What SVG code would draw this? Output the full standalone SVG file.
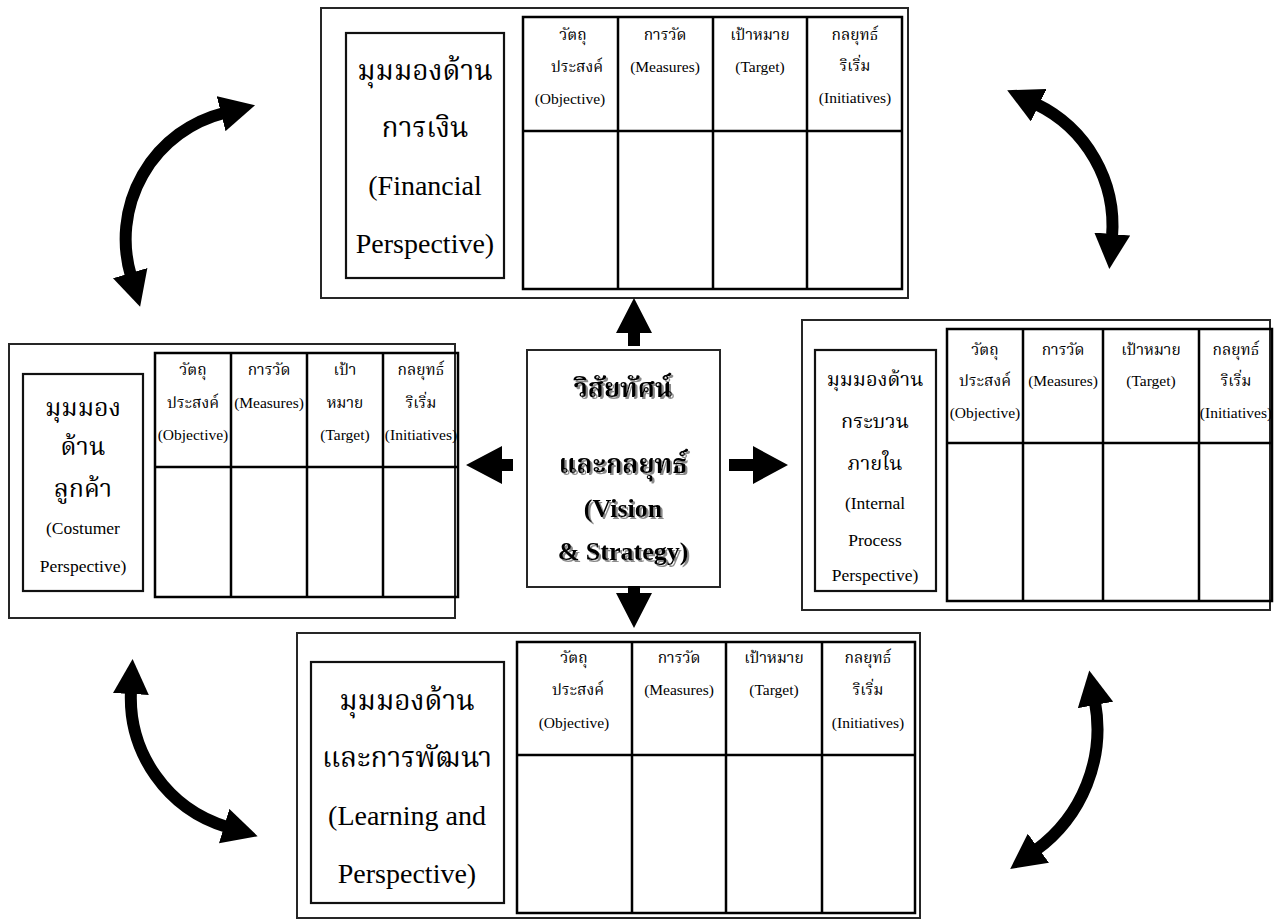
<svg xmlns="http://www.w3.org/2000/svg" width="1281" height="921" viewBox="0 0 1281 921">
  <style>
    .frame { fill: #ffffff; stroke: #262626; stroke-width: 2; }
    .title-box { fill: none; stroke: #111111; stroke-width: 2.2; }
    .grid { fill: none; stroke: #000000; stroke-width: 2.5; }
    .t { font-family: "Liberation Serif", "Noto Serif Thai", "Noto Sans Thai", "Garuda", "Loma", serif; fill: #000000; text-anchor: middle; }
    .cell { font-size: 15.5px; }
    .head28 { font-size: 28px; }
    .head25 { font-size: 25px; }
    .head20 { font-size: 20px; }
    .small175 { font-size: 17.5px; }
    .vision { font-size: 26px; font-weight: bold; }
    .block { fill: #000000; stroke: none; }
    .curve { fill: none; stroke: #000000; stroke-width: 12; marker-start: url(#head); marker-end: url(#head); }
  </style>
  <defs>
    <marker id="head" markerUnits="userSpaceOnUse" viewBox="0 0 35 36" markerWidth="35" markerHeight="36" refX="3" refY="18" orient="auto-start-reverse">
      <path d="M0,0 L35,18 L0,36 Z" fill="#000000"/>
    </marker>
    <filter id="shadow" x="-10%" y="-10%" width="130%" height="140%">
      <feDropShadow dx="2" dy="2" stdDeviation="0.6" flood-color="#8a8a8a" flood-opacity="1"/>
    </filter>
  </defs>
  <rect x="0" y="0" width="1281" height="921" fill="#ffffff"/>

  <!-- Financial perspective -->
  <g id="financial">
    <rect class="frame" x="321" y="8" width="587" height="290"/>
    <rect class="title-box" x="346" y="33" width="158" height="245"/>
    <text class="t head28" x="425" y="80">มุมมองด้าน</text>
    <text class="t head28" x="425" y="137">การเงิน</text>
    <text class="t head28" x="425" y="195">(Financial</text>
    <text class="t head28" x="425" y="253">Perspective)</text>
    <rect class="grid" x="523" y="17" width="379" height="272"/>
    <path class="grid" d="M523,131 H902 M618,17 V289 M713,17 V289 M807,17 V289"/>
    <text class="t cell" x="573" y="40">วัตถุ</text>
    <text class="t cell" x="577" y="72">ประสงค์</text>
    <text class="t cell" x="570" y="104">(Objective)</text>
    <text class="t cell" x="665" y="40">การวัด</text>
    <text class="t cell" x="665" y="72">(Measures)</text>
    <text class="t cell" x="760" y="40">เป้าหมาย</text>
    <text class="t cell" x="760" y="72">(Target)</text>
    <text class="t cell" x="855" y="40">กลยุทธ์</text>
    <text class="t cell" x="855" y="71">ริเริ่ม</text>
    <text class="t cell" x="855" y="103">(Initiatives)</text>
  </g>

  <!-- Customer perspective -->
  <g id="customer">
    <rect class="frame" x="9" y="344" width="446" height="274"/>
    <rect class="title-box" x="23" y="374" width="120" height="217"/>
    <text class="t head25" x="83" y="416">มุมมอง</text>
    <text class="t head25" x="83" y="455">ด้าน</text>
    <text class="t head25" x="83" y="497">ลูกค้า</text>
    <text class="t small175" x="83" y="534">(Costumer</text>
    <text class="t small175" x="83" y="572">Perspective)</text>
    <rect class="grid" x="155" y="353" width="303" height="244"/>
    <path class="grid" d="M155,467 H458 M231,353 V597 M307,353 V597 M383,353 V597"/>
    <text class="t cell" x="193" y="375">วัตถุ</text>
    <text class="t cell" x="193" y="408">ประสงค์</text>
    <text class="t cell" x="193" y="440">(Objective)</text>
    <text class="t cell" x="269" y="375">การวัด</text>
    <text class="t cell" x="269" y="408">(Measures)</text>
    <text class="t cell" x="345" y="375">เป้า</text>
    <text class="t cell" x="345" y="408">หมาย</text>
    <text class="t cell" x="345" y="440">(Target)</text>
    <text class="t cell" x="421" y="375">กลยุทธ์</text>
    <text class="t cell" x="421" y="408">ริเริ่ม</text>
    <text class="t cell" x="421" y="440">(Initiatives)</text>
  </g>

  <!-- Internal process perspective -->
  <g id="internal">
    <rect class="frame" x="802" y="320" width="468" height="290"/>
    <rect class="title-box" x="815" y="350" width="121" height="241"/>
    <text class="t head20" x="875" y="386">มุมมองด้าน</text>
    <text class="t head20" x="875" y="428">กระบวน</text>
    <text class="t head20" x="875" y="470">ภายใน</text>
    <text class="t small175" x="875" y="509">(Internal</text>
    <text class="t small175" x="875" y="546">Process</text>
    <text class="t small175" x="875" y="581">Perspective)</text>
    <rect class="grid" x="947" y="329" width="325" height="272"/>
    <path class="grid" d="M947,443 H1272 M1023,329 V601 M1103,329 V601 M1199,329 V601"/>
    <text class="t cell" x="985" y="355">วัตถุ</text>
    <text class="t cell" x="985" y="386">ประสงค์</text>
    <text class="t cell" x="985" y="418">(Objective)</text>
    <text class="t cell" x="1063" y="355">การวัด</text>
    <text class="t cell" x="1063" y="386">(Measures)</text>
    <text class="t cell" x="1151" y="355">เป้าหมาย</text>
    <text class="t cell" x="1151" y="386">(Target)</text>
    <text class="t cell" x="1236" y="355">กลยุทธ์</text>
    <text class="t cell" x="1236" y="386">ริเริ่ม</text>
    <text class="t cell" x="1236" y="418">(Initiatives)</text>
  </g>

  <!-- Learning and growth perspective -->
  <g id="learning">
    <rect class="frame" x="297" y="633" width="623" height="285"/>
    <rect class="title-box" x="311" y="662" width="193" height="241"/>
    <text class="t head28" x="407" y="710">มุมมองด้าน</text>
    <text class="t head28" x="407" y="767">และการพัฒนา</text>
    <text class="t head28" x="407" y="825">(Learning and</text>
    <text class="t head28" x="407" y="883">Perspective)</text>
    <rect class="grid" x="517" y="642" width="398" height="271"/>
    <path class="grid" d="M517,755 H915 M632,642 V913 M726,642 V913 M822,642 V913"/>
    <text class="t cell" x="574" y="663">วัตถุ</text>
    <text class="t cell" x="578" y="695">ประสงค์</text>
    <text class="t cell" x="574" y="728">(Objective)</text>
    <text class="t cell" x="679" y="663">การวัด</text>
    <text class="t cell" x="679" y="695">(Measures)</text>
    <text class="t cell" x="774" y="663">เป้าหมาย</text>
    <text class="t cell" x="774" y="695">(Target)</text>
    <text class="t cell" x="868" y="663">กลยุทธ์</text>
    <text class="t cell" x="868" y="695">ริเริ่ม</text>
    <text class="t cell" x="868" y="728">(Initiatives)</text>
  </g>

  <!-- Vision and strategy -->
  <g id="vision">
    <rect class="frame" x="527" y="350" width="193" height="237"/>
    <g filter="url(#shadow)">
      <text class="t vision" x="623" y="397">วิสัยทัศน์</text>
      <text class="t vision" x="623" y="473">และกลยุทธ์</text>
      <text class="t vision" x="623" y="517">(Vision</text>
      <text class="t vision" x="623" y="560">&amp; Strategy)</text>
    </g>
  </g>

  <!-- Connectors -->
  <g id="connectors">
    <!-- block arrows out of the vision box -->
    <polygon class="block" points="634,298 652,333 640,333 640,346 628,346 628,333 616,333"/>
    <polygon class="block" points="466,465 502,446 502,459 513,459 513,471 502,471 502,484"/>
    <polygon class="block" points="788,465 753,446 753,459 729,459 729,471 753,471 753,484"/>
    <polygon class="block" points="634,628 652,593 640,593 640,586 628,586 628,593 616,593"/>
    <!-- curved two-way arrows between perspectives -->
    <path class="curve" d="M131,276 A130,130 0 0 1 224,113"/>
    <path class="curve" d="M1036,104 A135,135 0 0 1 1112,237"/>
    <path class="curve" d="M131,691 A135,135 0 0 0 227,827"/>
    <path class="curve" d="M1095,702 A150,150 0 0 1 1036,850"/>
  </g>
</svg>
